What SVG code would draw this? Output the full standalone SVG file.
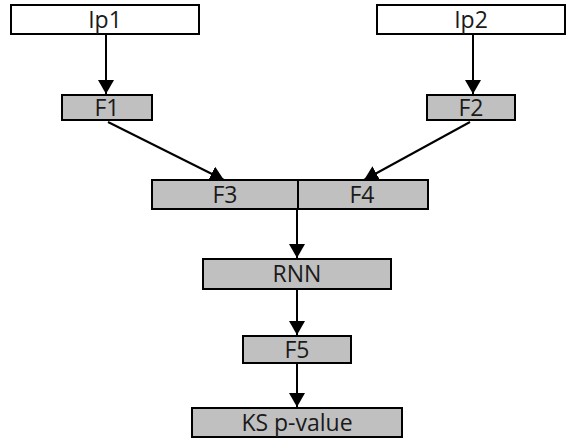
<svg xmlns="http://www.w3.org/2000/svg" width="570" height="441" viewBox="0 0 570 441">
  <style>
    .box { stroke: #000; stroke-width: 2; }
    .in { fill: #fff; }
    .op { fill: #c0c0c0; }
    .lbl { font-family: "Open Sans", "Noto Sans", "DejaVu Sans", sans-serif; font-size: 23px; fill: #1a1a1a; text-anchor: middle; }
    .edge { stroke: #000; stroke-width: 2; fill: none; marker-end: url(#head); }
  </style>
  <defs>
    <marker id="head" viewBox="0 0 14 16" refX="14" refY="8" markerWidth="14" markerHeight="16" markerUnits="userSpaceOnUse" orient="auto">
      <path d="M0,0 L14,8 L0,16 z" fill="#000"/>
    </marker>
  </defs>
  <rect width="570" height="441" fill="#fff"/>

  <g id="edges">
    <path class="edge" d="M106,34 V94"/>
    <path class="edge" d="M473,34 V94"/>
    <path class="edge" d="M108,122 L224,180"/>
    <path class="edge" d="M470,122 L364,180"/>
    <path class="edge" d="M297,209 V258"/>
    <path class="edge" d="M297,289 V335"/>
    <path class="edge" d="M297,363 V407"/>
  </g>

  <g id="ip1">
    <rect class="box in" x="11" y="5" width="188" height="29"/>
    <text class="lbl" x="105" y="28">Ip1</text>
  </g>
  <g id="ip2">
    <rect class="box in" x="377" y="5" width="188" height="29"/>
    <text class="lbl" x="471" y="28">Ip2</text>
  </g>
  <g id="f1">
    <rect class="box op" x="62" y="95" width="90" height="25"/>
    <text class="lbl" x="107" y="116">F1</text>
  </g>
  <g id="f2">
    <rect class="box op" x="427" y="95" width="88" height="25"/>
    <text class="lbl" x="471" y="116">F2</text>
  </g>
  <g id="f3f4">
    <rect class="box op" x="152" y="180" width="276" height="29"/>
    <line class="box" x1="298" y1="180" x2="298" y2="209"/>
    <text class="lbl" x="225" y="203">F3</text>
    <text class="lbl" x="362" y="203">F4</text>
  </g>
  <g id="rnn">
    <rect class="box op" x="203" y="259" width="188" height="30"/>
    <text class="lbl" x="297" y="282">RNN</text>
  </g>
  <g id="f5">
    <rect class="box op" x="243" y="336" width="108" height="27"/>
    <text class="lbl" x="297" y="358">F5</text>
  </g>
  <g id="ks">
    <rect class="box op" x="192" y="408" width="210" height="29"/>
    <text class="lbl" x="297" y="431">KS p-value</text>
  </g>
</svg>
